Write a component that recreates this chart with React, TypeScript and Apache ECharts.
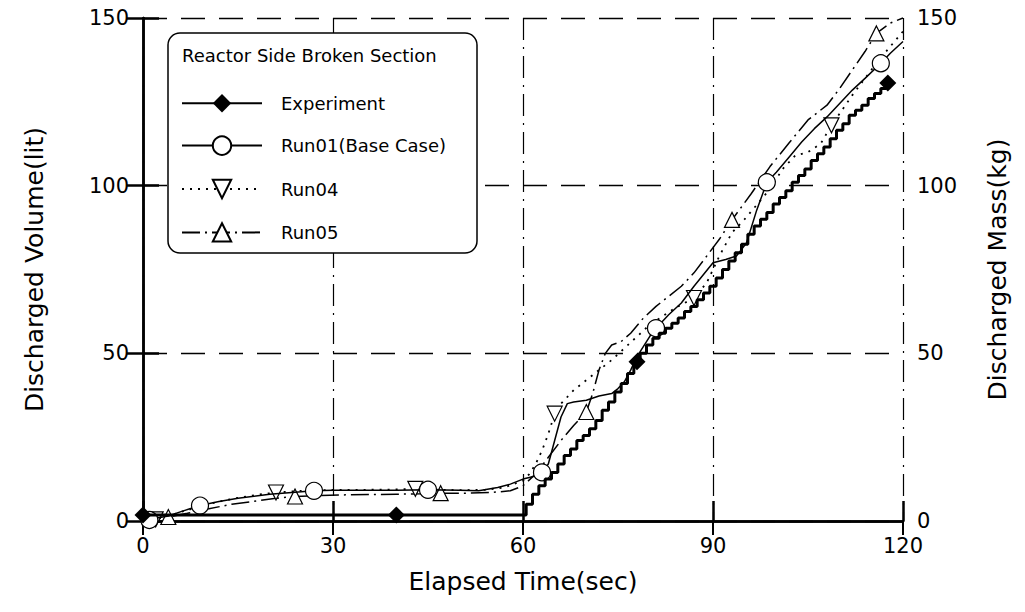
import { useEffect, useRef } from "react";
import * as echarts from "echarts";

// ---------- data ----------
const X_TICKS = [0, 30, 60, 90, 120];
const Y_TICKS = [0, 50, 100, 150];

const LEGEND_TITLE = "Reactor Side Broken Section";
const SERIES_NAMES = ["Experiment", "Run01(Base Case)", "Run04", "Run05"];

const expT = [0, 10, 20, 30, 40, 50, 60, 61, 62, 63, 64, 65, 66, 67, 68, 69, 70, 71, 72, 73, 74, 75, 76, 77, 78, 79, 80, 81, 82, 83, 84, 85, 86, 87, 88, 89, 90, 91, 92, 93, 94, 95, 96, 97, 98, 99, 100, 101, 102, 103, 104, 105, 106, 107, 108, 109, 110, 111, 112, 113, 114, 115, 116, 117, 117.6];
const expV = [1.8, 1.8, 1.8, 1.8, 1.8, 1.8, 1.8, 5, 8, 10.5, 12.5, 14.5, 17, 19.5, 21.5, 24, 25.5, 27.5, 30, 33, 35.5, 38.5, 41, 44, 47.5, 50, 52.5, 54.5, 56, 57.5, 59, 60.5, 62.5, 64, 66, 68, 70, 72.5, 75, 77.5, 80, 82.5, 85.5, 88, 90, 92, 94.5, 96.5, 98.5, 101, 103, 105, 107.5, 109.5, 111.5, 114, 116.5, 118.5, 121, 122.5, 124, 126, 127.5, 129, 130.6];
const expMarks = [0, 40, 78, 117.6];

const r1T = [0, 1, 2, 4, 6, 9, 12, 15, 20, 25, 27, 30, 35, 40, 45, 50, 53, 56, 58, 60, 61, 62, 63, 64, 65, 66, 67, 68, 70, 72, 74, 75, 76, 77, 78, 79, 80, 81, 83, 85, 87, 90, 92, 93.7, 95.3, 96.9, 98.5, 100, 102, 104, 106, 108, 110, 112, 114, 116.5, 118, 120];
const r1V = [0, 0.3, 0.8, 1.5, 2.8, 4.6, 5.8, 6.8, 8, 8.7, 9, 9.2, 9.2, 9.2, 9.3, 9.2, 9, 10, 11, 12.5, 13, 13.5, 14.5, 17, 24, 31, 35, 35.5, 36, 37.3, 38, 39.5, 41.5, 45, 49, 52, 55, 57.5, 61.5, 65, 70, 77, 78, 79, 83, 92.7, 101, 104, 108.5, 113, 117, 120.5, 124.5, 128.5, 132, 136.5, 139.5, 143];
const r1Marks = [1, 9, 27, 45, 63, 81, 98.5, 116.5];

const r4T = [0, 2, 4, 6, 9, 12, 15, 18, 21, 25, 30, 35, 40, 43, 47, 50, 54, 57, 60, 61, 62, 63, 64, 65, 66, 68, 70, 72, 74, 76, 78, 80, 82, 84, 87, 89, 91, 93, 95, 97, 99, 101, 103, 105, 107, 108.7, 110, 112, 114, 116, 118, 120];
const r4V = [0, 0.5, 1.5, 2.7, 4.3, 5.8, 6.9, 7.8, 8.5, 9, 9.3, 9.3, 9.4, 9.6, 9.3, 9.2, 9.3, 10, 12, 14, 17, 21, 26, 32, 35, 39, 42, 45, 48, 51.5, 55, 58.5, 61, 63.5, 66.5, 71, 79, 86, 90, 94.5, 99, 105, 109, 110, 112.5, 118, 121.5, 127, 132, 137, 141.5, 146];
const r4Marks = [2, 21, 43, 65, 87, 108.7];

const r5T = [0, 2, 4, 7, 10, 14, 18, 21, 24, 28, 32, 36, 40, 44, 47, 51, 55, 58, 60, 62, 64, 66, 68, 70, 71, 72, 73, 74, 75.5, 77, 79, 81, 83, 85, 87, 89, 91, 93, 96, 99, 102, 105, 108, 110, 112, 114, 115.8, 118, 120];
const r5V = [0, 0.5, 1.2, 2.3, 3.5, 5, 6, 6.8, 7.3, 7.6, 7.8, 7.9, 8, 8.1, 8.3, 8.3, 8.5, 9, 10.5, 14, 19, 24, 28.5, 32.5, 38, 45, 50, 52.5, 53.5, 56, 60.5, 64, 67, 70, 74, 79, 84, 89.8, 97.5, 105.7, 112.7, 119.6, 124, 129, 134.5, 140, 145.4, 148.5, 150];
const r5Marks = [4, 24, 47, 70, 93, 115.8];

// ---------- helpers ----------
function build(t: number[], v: number[], marks: number[]) {
  return t.map((x, i) => {
    const item: any = { value: [x, v[i]] };
    if (!marks.includes(x)) item.symbol = "none";
    return item;
  });
}

const FONT = "DejaVu Sans";

export default function App() {
  const ref = useRef<HTMLDivElement>(null);
  useEffect(() => {
    if (!ref.current) return;
    const chart = echarts.init(ref.current, undefined, { renderer: "svg" });
    const black = "#000";
    const axisLine = { show: true, lineStyle: { color: black, width: 2.5 } };
    const labelStyle = { color: black, fontSize: 21, fontFamily: FONT };
    const option: any = {
      animation: false,
      backgroundColor: "#fff",
      grid: { left: 143, right: 122, top: 18, bottom: 91, show: false },
      xAxis: [
        {
          type: "value",
          min: X_TICKS[0],
          max: X_TICKS[X_TICKS.length - 1],
          interval: X_TICKS[1] - X_TICKS[0],
          position: "bottom",
          name: "Elapsed Time(sec)",
          nameLocation: "middle",
          nameGap: 48,
          nameTextStyle: { color: black, fontSize: 25, fontFamily: FONT },
          axisLine,
          axisTick: { show: true, inside: true, length: 20, lineStyle: { color: black, width: 2.5 } },
          axisLabel: { ...labelStyle, margin: 14 },
          splitLine: { show: true, lineStyle: { color: black, width: 1.2, type: [22, 7, 2, 7] } },
        },
        {
          type: "value",
          min: X_TICKS[0],
          max: X_TICKS[X_TICKS.length - 1],
          interval: X_TICKS[1] - X_TICKS[0],
          position: "top",
          axisLine,
          axisTick: { show: true, inside: true, length: 14, lineStyle: { color: black, width: 2 } },
          axisLabel: { show: false },
          splitLine: { show: false },
        },
      ],
      yAxis: [
        {
          type: "value",
          min: Y_TICKS[0],
          max: Y_TICKS[Y_TICKS.length - 1],
          interval: Y_TICKS[1] - Y_TICKS[0],
          position: "left",
          name: "Discharged Volume(lit)",
          nameLocation: "middle",
          nameRotate: 90,
          nameGap: 96,
          nameTextStyle: { color: black, fontSize: 25, fontFamily: FONT },
          axisLine,
          axisTick: { show: true, inside: true, length: 16, lineStyle: { color: black, width: 2.5 } },
          axisLabel: { ...labelStyle, margin: 14 },
          splitLine: { show: true, lineStyle: { color: black, width: 1.4, type: [24, 14] } },
        },
        {
          type: "value",
          min: Y_TICKS[0],
          max: Y_TICKS[Y_TICKS.length - 1],
          interval: Y_TICKS[1] - Y_TICKS[0],
          position: "right",
          name: "Discharged Mass(kg)",
          nameLocation: "middle",
          nameRotate: 90,
          nameGap: 82,
          nameTextStyle: { color: black, fontSize: 25, fontFamily: FONT },
          axisLine,
          axisTick: { show: true, inside: true, length: 16, lineStyle: { color: black, width: 2.5 } },
          axisLabel: { ...labelStyle, margin: 14 },
          splitLine: { show: false },
        },
      ],
      legend: {
        orient: "vertical",
        left: 176,
        top: 89,
        itemWidth: 80,
        itemHeight: 23,
        itemGap: 23,
        z: 10,
        textStyle: { color: black, fontSize: 18, fontFamily: FONT, padding: [0, 0, 0, 14] },
        data: SERIES_NAMES,
      },
      graphic: [
        {
          type: "rect",
          z: 9,
          shape: { x: 168, y: 33, width: 309, height: 220, r: 12 },
          style: { fill: "#fff", stroke: black, lineWidth: 1.5 },
        },
        {
          type: "text",
          z: 10,
          x: 182,
          y: 55,
          style: {
            text: LEGEND_TITLE,
            fill: black,
            fontSize: 18,
            fontFamily: FONT,
            verticalAlign: "middle",
          },
        },
      ],
      series: [
        {
          name: SERIES_NAMES[0],
          type: "line",
          data: build(expT, expV, expMarks),
          step: "middle",
          symbol: "diamond",
          symbolSize: 17,
          clip: false,
          z: 5,
          lineStyle: { color: black, width: 3 },
          itemStyle: { color: black },
        },
        {
          name: SERIES_NAMES[1],
          type: "line",
          data: build(r1T, r1V, r1Marks),
          symbol: "circle",
          symbolSize: 17,
          clip: false,
          z: 4,
          lineStyle: { color: black, width: 1.5 },
          itemStyle: { color: "#fff", borderColor: black, borderWidth: 1.2 },
        },
        {
          name: SERIES_NAMES[2],
          type: "line",
          data: build(r4T, r4V, r4Marks),
          symbol: "triangle",
          symbolRotate: 180,
          symbolSize: 15,
          clip: false,
          z: 3,
          lineStyle: { color: black, width: 1.8, type: [2, 6] },
          itemStyle: { color: "#fff", borderColor: black, borderWidth: 1.2 },
        },
        {
          name: SERIES_NAMES[3],
          type: "line",
          data: build(r5T, r5V, r5Marks),
          symbol: "triangle",
          symbolSize: 15,
          clip: false,
          z: 3,
          lineStyle: { color: black, width: 1.5, type: [18, 5, 2, 5] },
          itemStyle: { color: "#fff", borderColor: black, borderWidth: 1.2 },
        },
      ],
    };
    chart.setOption(option);
    return () => chart.dispose();
  }, []);
  return (
    <div
      ref={ref}
      style={{ position: "absolute", left: 0, top: 0, width: 1025, height: 612, background: "#fff" }}
    />
  );
}
